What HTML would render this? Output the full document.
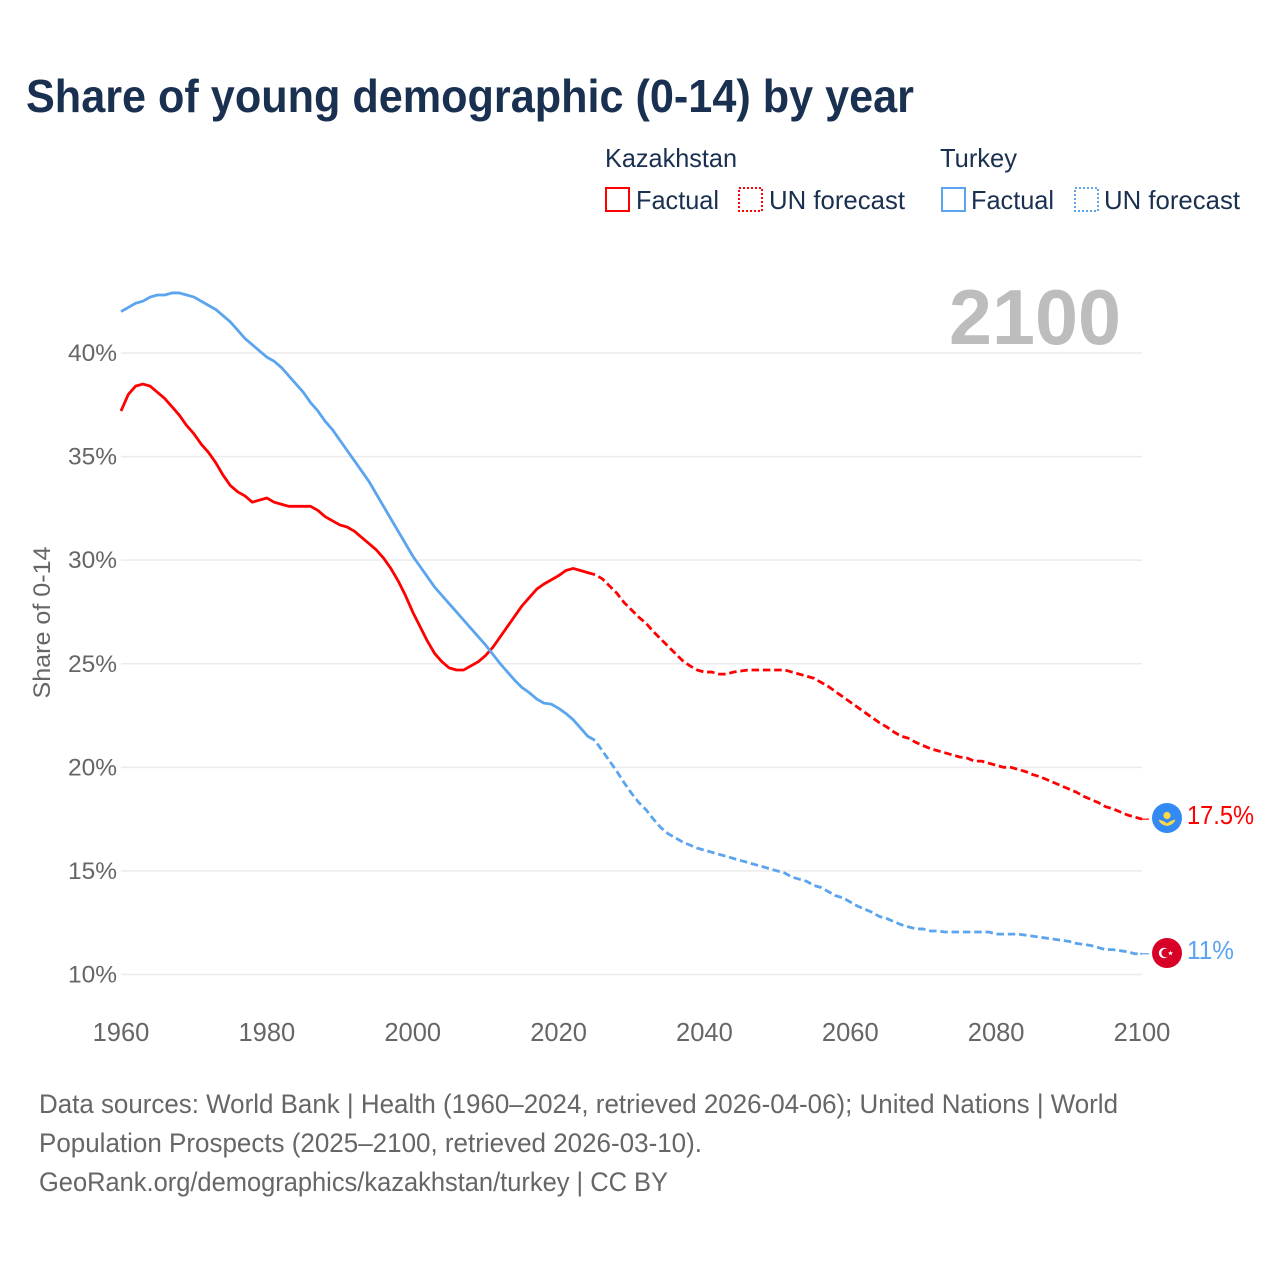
<!DOCTYPE html>
<html lang="en">
<head>
<meta charset="utf-8">
<title>Share of young demographic (0-14) by year</title>
<style>
html,body{margin:0;padding:0;background:#fff;}
svg{display:block;font-family:"Liberation Sans",sans-serif;}
</style>
</head>
<body>
<svg id="chart" xmlns="http://www.w3.org/2000/svg" width="1280" height="1280" viewBox="0 0 1280 1280">
  <text x="26" y="112" font-size="46" font-weight="700" fill="#1a3050" textLength="888" lengthAdjust="spacingAndGlyphs">Share of young demographic (0-14) by year</text>

  <g font-size="26" fill="#1a3050">
    <text x="605" y="167" textLength="132" lengthAdjust="spacingAndGlyphs">Kazakhstan</text>
    <rect x="606" y="188" width="23" height="23" fill="none" stroke="#ff0000" stroke-width="2"/>
    <text x="636" y="209" textLength="83" lengthAdjust="spacingAndGlyphs">Factual</text>
    <rect x="739" y="188" width="23" height="23" fill="none" stroke="#ff0000" stroke-width="2" stroke-dasharray="2 2"/>
    <text x="769" y="209" textLength="136" lengthAdjust="spacingAndGlyphs">UN forecast</text>

    <text x="940" y="167" textLength="77" lengthAdjust="spacingAndGlyphs">Turkey</text>
    <rect x="942" y="188" width="23" height="23" fill="none" stroke="#5ba4ee" stroke-width="2"/>
    <text x="971" y="209" textLength="83" lengthAdjust="spacingAndGlyphs">Factual</text>
    <rect x="1075" y="188" width="23" height="23" fill="none" stroke="#5ba4ee" stroke-width="2" stroke-dasharray="2 2"/>
    <text x="1104" y="209" textLength="136" lengthAdjust="spacingAndGlyphs">UN forecast</text>
  </g>

  <g id="grid"></g>
  <g id="y-ticks" font-size="24.5" fill="#666666" text-anchor="end"></g>
  <g id="x-ticks" font-size="25.5" fill="#666666" text-anchor="middle"></g>
  <text transform="translate(50,622.5) rotate(-90)" font-size="24.5" fill="#666666" text-anchor="middle" textLength="152" lengthAdjust="spacingAndGlyphs">Share of 0-14</text>

  <text x="949" y="344" font-size="78" font-weight="700" fill="#bdbdbd" textLength="172" lengthAdjust="spacingAndGlyphs">2100</text>

  <g id="series" fill="none" stroke-width="2.8" stroke-linejoin="round"></g>

  <g id="end-markers">
    <g transform="translate(1167,818)">
      <circle r="15" fill="#338af3"/>
      <circle cy="-2.5" r="3.6" fill="#ffda44"/>
      <path d="M-8.5,1.5 C-5,2.5 -3,3 0,5.5 C3,3 5,2.5 8.5,1.5 C7,6 3.5,7 0,8 C-3.5,7 -7,6 -8.5,1.5 Z" fill="#ffda44"/>
    </g>
    <g transform="translate(1167,953)">
      <circle r="15" fill="#d80027"/>
      <circle cx="-3" r="5.2" fill="#ffffff"/>
      <circle cx="-1.4" r="4.2" fill="#d80027"/>
      <path d="M3.5,-2.4 L4.2,-0.6 L6.1,-0.6 L4.6,0.6 L5.2,2.4 L3.5,1.3 L1.9,2.4 L2.4,0.6 L1,-0.6 L2.9,-0.6 Z" fill="#ffffff"/>
    </g>
    <text x="1187" y="824" font-size="25.5" fill="#ff0000" textLength="67" lengthAdjust="spacingAndGlyphs">17.5%</text>
    <text x="1187" y="959" font-size="25.5" fill="#5ba4ee" textLength="47" lengthAdjust="spacingAndGlyphs">11%</text>
  </g>

  <g font-size="26.5" fill="#666666">
    <text x="39" y="1113" textLength="1079" lengthAdjust="spacingAndGlyphs">Data sources: World Bank | Health (1960–2024, retrieved 2026-04-06); United Nations | World</text>
    <text x="39" y="1152" textLength="663" lengthAdjust="spacingAndGlyphs">Population Prospects (2025–2100, retrieved 2026-03-10).</text>
    <text x="39" y="1191" textLength="629" lengthAdjust="spacingAndGlyphs">GeoRank.org/demographics/kazakhstan/turkey | CC BY</text>
  </g>
</svg>
<script>
var factualStartYear = 1960;
var forecastStartYear = 2025;
var yTickValues = [10, 15, 20, 25, 30, 35, 40];
var yTickLabels = ["10%", "15%", "20%", "25%", "30%", "35%", "40%"];
var xTickValues = [1960, 1980, 2000, 2020, 2040, 2060, 2080, 2100];
var xTickLabels = ["1960", "1980", "2000", "2020", "2040", "2060", "2080", "2100"];
var kazakhstanFactual = [37.2,38.0,38.4,38.5,38.4,38.1,37.8,37.4,37.0,36.5,36.1,35.6,35.2,34.7,34.1,33.6,33.3,33.1,32.8,32.9,33.0,32.8,32.7,32.6,32.6,32.6,32.6,32.4,32.1,31.9,31.7,31.6,31.4,31.1,30.8,30.5,30.1,29.6,29.0,28.3,27.5,26.8,26.1,25.5,25.1,24.8,24.7,24.7,24.9,25.1,25.4,25.8,26.3,26.8,27.3,27.8,28.2,28.6,28.85,29.05,29.25,29.5,29.6,29.5,29.4,29.3];
var kazakhstanForecast = [29.3,29.1,28.75,28.4,27.95,27.6,27.25,26.95,26.55,26.2,25.85,25.5,25.15,24.9,24.7,24.6,24.6,24.5,24.5,24.6,24.65,24.7,24.7,24.7,24.7,24.7,24.7,24.6,24.5,24.4,24.3,24.1,23.9,23.65,23.4,23.15,22.9,22.65,22.4,22.15,21.95,21.7,21.5,21.4,21.2,21.05,20.9,20.8,20.7,20.6,20.5,20.45,20.3,20.3,20.2,20.1,20.0,20.0,19.9,19.8,19.65,19.55,19.4,19.25,19.1,18.95,18.8,18.6,18.45,18.3,18.1,18.0,17.85,17.7,17.6,17.5];
var turkeyFactual = [42.0,42.2,42.4,42.5,42.7,42.8,42.8,42.9,42.9,42.8,42.7,42.5,42.3,42.1,41.8,41.5,41.1,40.7,40.4,40.1,39.8,39.6,39.3,38.9,38.5,38.1,37.6,37.2,36.7,36.3,35.8,35.3,34.8,34.3,33.8,33.2,32.6,32.0,31.4,30.8,30.2,29.7,29.2,28.7,28.3,27.9,27.5,27.1,26.7,26.3,25.9,25.45,25.0,24.6,24.2,23.85,23.6,23.3,23.1,23.05,22.85,22.6,22.3,21.9,21.5,21.3];
var turkeyForecast = [21.3,20.8,20.3,19.8,19.25,18.75,18.3,17.95,17.5,17.1,16.8,16.6,16.4,16.25,16.1,16.0,15.9,15.8,15.7,15.6,15.5,15.4,15.3,15.2,15.1,15.0,14.9,14.7,14.6,14.5,14.3,14.2,14.0,13.8,13.7,13.5,13.3,13.15,13.0,12.8,12.7,12.55,12.4,12.3,12.2,12.2,12.1,12.1,12.05,12.05,12.05,12.05,12.05,12.05,12.05,11.95,11.95,11.95,11.95,11.9,11.85,11.8,11.75,11.7,11.65,11.6,11.5,11.45,11.4,11.3,11.2,11.2,11.15,11.1,11.0,11.0];

var SVG_NS = "http://www.w3.org/2000/svg";
function xScale(year) { return 121 + (year - 1960) * (1142 - 121) / 140; }
function yScale(pct) { return 353 + (40 - pct) * (974.5 - 353) / 30; }
function linePath(values, startYear) {
  var d = "";
  for (var i = 0; i < values.length; i++) {
    d += (i ? "L" : "M") + xScale(startYear + i).toFixed(2) + "," + yScale(values[i]).toFixed(2);
  }
  return d;
}

var gridGroup = document.getElementById("grid");
var yTickGroup = document.getElementById("y-ticks");
var xTickGroup = document.getElementById("x-ticks");
var seriesGroup = document.getElementById("series");

yTickValues.forEach(function (v, i) {
  var gl = document.createElementNS(SVG_NS, "line");
  
  
  gl.setAttribute("x1", xScale(1960));
  gl.setAttribute("x2", xScale(2100));
  gl.setAttribute("y1", yScale(v));
  gl.setAttribute("y2", yScale(v));
  gl.setAttribute("stroke", "#ebebeb");
  gl.setAttribute("stroke-width", "1.5");
  gridGroup.appendChild(gl);

  var t = document.createElementNS(SVG_NS, "text");
  
  
  t.setAttribute("x", 117);
  t.setAttribute("y", yScale(v) + 8);
  t.textContent = yTickLabels[i];
  yTickGroup.appendChild(t);
});

xTickValues.forEach(function (v, i) {
  var t = document.createElementNS(SVG_NS, "text");
  
  
  t.setAttribute("x", xScale(v));
  t.setAttribute("y", 1041);
  t.textContent = xTickLabels[i];
  xTickGroup.appendChild(t);
});

function addLine(el, values, startYear, color, dashed) {
  el.setAttribute("d", linePath(values, startYear));
  el.setAttribute("stroke", color);
  if (dashed) {
    el.setAttribute("stroke-dasharray", "7.5 3.8");
    el.setAttribute("stroke-dashoffset", "7.5");
  }
  seriesGroup.appendChild(el);
}

var kzFactualLine = document.createElementNS(SVG_NS, "path");


addLine(kzFactualLine, kazakhstanFactual, factualStartYear, "#ff0000", false);

var kzForecastLine = document.createElementNS(SVG_NS, "path");


addLine(kzForecastLine, kazakhstanForecast, forecastStartYear, "#ff0000", true);

var trFactualLine = document.createElementNS(SVG_NS, "path");


addLine(trFactualLine, turkeyFactual, factualStartYear, "#5ba4ee", false);

var trForecastLine = document.createElementNS(SVG_NS, "path");


addLine(trForecastLine, turkeyForecast, forecastStartYear, "#5ba4ee", true);

var kzConnector = document.createElementNS(SVG_NS, "line");


kzConnector.setAttribute("x1", xScale(2100) - 2);
kzConnector.setAttribute("x2", 1149);
kzConnector.setAttribute("y1", yScale(kazakhstanForecast[kazakhstanForecast.length - 1]));
kzConnector.setAttribute("y2", yScale(kazakhstanForecast[kazakhstanForecast.length - 1]));
kzConnector.setAttribute("stroke", "#ff0000");
kzConnector.setAttribute("stroke-width", "1.2");
seriesGroup.appendChild(kzConnector);

var trConnector = document.createElementNS(SVG_NS, "line");


trConnector.setAttribute("x1", xScale(2100) - 2);
trConnector.setAttribute("x2", 1149);
trConnector.setAttribute("y1", yScale(turkeyForecast[turkeyForecast.length - 1]));
trConnector.setAttribute("y2", yScale(turkeyForecast[turkeyForecast.length - 1]));
trConnector.setAttribute("stroke", "#5ba4ee");
trConnector.setAttribute("stroke-width", "1.2");
seriesGroup.appendChild(trConnector);
</script>
</body>
</html>
